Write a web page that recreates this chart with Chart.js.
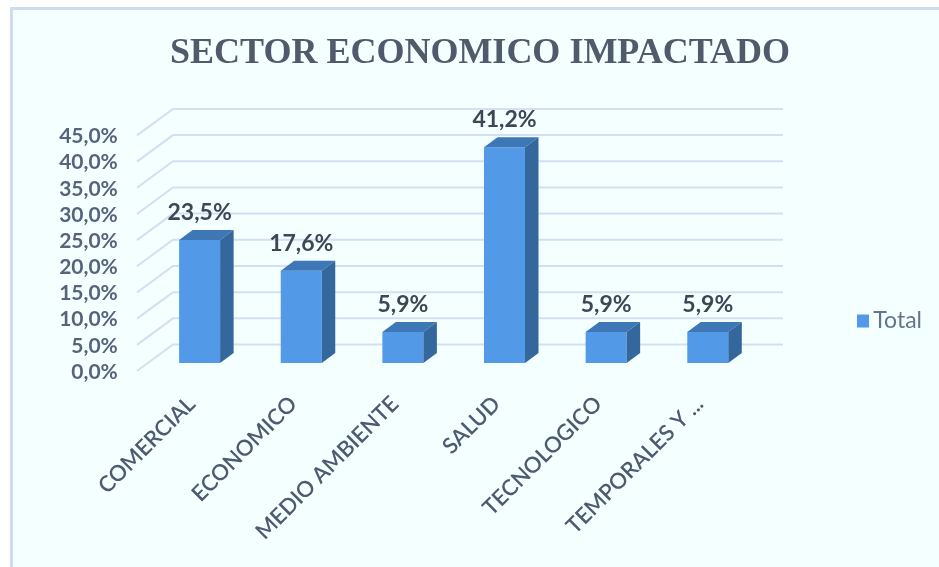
<!DOCTYPE html>
<html>
<head>
<meta charset="utf-8">
<style>
  html, body { margin: 0; padding: 0; background: #fff; overflow: hidden; }
  canvas { display: block; }
</style>
<script src="https://cdn.jsdelivr.net/npm/chart.js@4"></script>
</head>
<body>
<canvas id="grafico" width="939" height="567"></canvas>
<script>
const sectores = ['COMERCIAL', 'ECONOMICO', 'MEDIO AMBIENTE', 'SALUD', 'TECNOLOGICO', 'TEMPORALES Y ...']
const porcentajes = [23.5, 17.6, 5.9, 41.2, 5.9, 5.9]
const yMin = 0
const yMax = 45
const yPaso = 5

const colorFrente = '#5299e8'
const colorArriba = '#3d77b6'
const colorLado = '#34679b'
const colorGrid = '#d3dff2'
const fuente = 'Lato'

const coma = v => v.toFixed(1).replace('.', ',') + '%'

// Excel style 3D: back wall and floor, drawn from the y scale
const pared = {
  id: 'pared',
  beforeDraw(chart) {
    const c = chart.ctx
    c.save()
    c.fillStyle = '#ffffff'
    c.fillRect(0, 0, 939, 567)
    c.fillStyle = '#f4ffff'
    c.fillRect(10, 7, 929, 560)
    c.fillStyle = '#cfdcf0'
    c.fillRect(10, 7, 929, 3)
    c.fillRect(10, 7, 3, 560)
    c.restore()
  },
  beforeDatasetsDraw(chart) {
    const c = chart.ctx
    const y = chart.scales.y
    c.save()
    c.strokeStyle = colorGrid
    c.lineWidth = 2
    for (let v = yMin; v <= yMax; v += yPaso) {
      const py = y.getPixelForValue(v) - 18.5
      c.beginPath()
      c.moveTo(137, py + 26.5)
      c.lineTo(173, py)
      c.lineTo(783, py)
      c.stroke()
    }
    c.restore()
  },
  afterDatasetsDraw(chart) {
    const c = chart.ctx
    const dx = 13.5
    const dy = 10
    const barras = chart.getDatasetMeta(0).data
    c.save()
    barras.forEach((b, i) => {
      const izq = b.x - b.width / 2
      const der = b.x + b.width / 2
      c.fillStyle = colorArriba
      c.beginPath()
      c.moveTo(izq, b.y)
      c.lineTo(izq + dx, b.y - dy)
      c.lineTo(der + dx, b.y - dy)
      c.lineTo(der, b.y)
      c.closePath()
      c.fill()
      c.fillStyle = colorLado
      c.beginPath()
      c.moveTo(der, b.y)
      c.lineTo(der + dx, b.y - dy)
      c.lineTo(der + dx, b.base - dy)
      c.lineTo(der, b.base)
      c.closePath()
      c.fill()
      c.fillStyle = '#3c4654'
      c.font = 'bold 23px ' + fuente
      c.textAlign = 'center'
      c.textBaseline = 'alphabetic'
      c.fillText(coma(porcentajes[i]), b.x, b.y - 20)
    })
    c.restore()
  },
  afterLayout(chart) {
    // legend sits low on the right, away from the plot; title centred over the frame
    const l = chart.legend
    const h = l.bottom - l.top
    l.left = 847
    l.right = 922
    l.top = 321 - h / 2
    l.bottom = 321 + h / 2
    const t = chart.titleBlock
    t.left = 21
    t.right = 939
  }
}

new Chart(document.getElementById('grafico'), {
  type: 'bar',
  data: {
    labels: sectores,
    datasets: [{
      label: 'Total',
      data: porcentajes,
      backgroundColor: colorFrente,
      barPercentage: 0.4035,
      categoryPercentage: 1
    }]
  },
  plugins: [pared],
  options: {
    responsive: false,
    animation: false,
    layout: { padding: { left: 21, right: 100.4, top: 0, bottom: 0 } },
    plugins: {
      title: {
        display: true,
        text: 'SECTOR ECONOMICO IMPACTADO',
        color: '#4f5b6b',
        font: { family: 'Liberation Serif', size: 36, weight: 'bold' },
        padding: { top: 32, bottom: 52.2 }
      },
      legend: {
        position: 'right',
        maxWidth: 80,
        labels: {
          color: '#64748a',
          boxWidth: 12,
          boxHeight: 13,
          padding: 10,
          textAlign: 'right',
          font: { family: fuente, size: 23 }
        }
      },
      tooltip: { enabled: false }
    },
    scales: {
      x: {
        grid: { display: false },
        border: { display: false },
        afterFit(s) { s.height = 204 },
        ticks: {
          color: '#4d5a70',
          minRotation: 45,
          maxRotation: 45,
          autoSkip: false,
          padding: 20,
          labelOffset: -8,
          font: { family: fuente, size: 22, weight: '600' }
        }
      },
      y: {
        min: yMin,
        max: yMax,
        grid: { display: false },
        border: { display: false },
        afterFit(s) { s.width = 127.8 },
        ticks: {
          stepSize: yPaso,
          autoSkip: false,
          color: '#56637a',
          padding: 23,
          labelOffset: 9,
          callback: v => coma(v),
          font: { family: fuente, size: 21, weight: 'bold' }
        }
      }
    }
  }
})
</script>
</body>
</html>
